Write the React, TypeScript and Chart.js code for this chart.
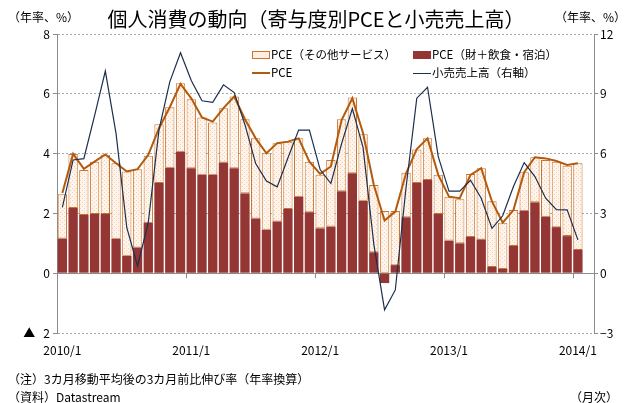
import React, { useEffect, useRef } from 'react';
import { Chart, registerables } from 'chart.js';
Chart.register(...registerables);

// ---- data ----
const categories: string[] = [];
for (let y = 2010; y <= 2014; y++) {
  for (let m = 1; m <= 12; m++) {
    if (y === 2014 && m > 2) break;
    categories.push(`${y}/${m}`);
  }
}
const tickLabels = ['2010/1', '2011/1', '2012/1', '2013/1', '2014/1'];

// PCE (財＋飲食・宿泊) contribution
const goodsFood = [
  1.16, 2.18, 1.95, 1.98, 1.98, 1.15, 0.58, 0.86, 1.69, 3.02, 3.53, 4.06,
  3.51, 3.29, 3.29, 3.70, 3.51, 2.67, 1.83, 1.45, 1.73, 2.15, 2.56, 2.04,
  1.50, 1.56, 2.74, 3.34, 2.42, 0.70, -0.33, 0.27, 1.87, 3.02, 3.12, 1.98,
  1.09, 1.00, 1.21, 1.13, 0.21, 0.14, 0.91, 2.09, 2.37, 1.89, 1.54, 1.24,
  0.78, null,
];
// PCE (その他サービス) contribution
const otherServices = [
  1.48, 1.81, 1.50, 1.75, 1.98, 2.53, 2.82, 2.62, 2.24, 1.96, 2.02, 2.29,
  2.31, 1.92, 1.75, 1.82, 2.40, 2.48, 2.68, 2.56, 2.62, 2.25, 1.95, 1.69,
  1.79, 2.23, 2.41, 2.54, 2.23, 2.25, 2.08, 1.81, 1.49, 1.12, 1.39, 1.31,
  1.47, 1.47, 2.11, 2.38, 2.20, 1.55, 1.20, 1.29, 1.51, 1.90, 2.19, 2.35,
  2.90, null,
];
// PCE total
const pce = [
  2.68, 3.99, 3.49, 3.73, 3.97, 3.68, 3.40, 3.48, 3.96, 4.85, 5.55, 6.33,
  5.85, 5.21, 5.07, 5.52, 5.91, 5.15, 4.51, 4.01, 4.35, 4.40, 4.51, 3.73,
  3.32, 3.57, 5.12, 5.85, 4.68, 2.95, 1.76, 2.06, 3.34, 4.15, 4.51, 3.29,
  2.56, 2.51, 3.29, 3.51, 2.40, 1.69, 2.11, 3.38, 3.88, 3.84, 3.75, 3.62,
  3.68, null,
];
// 小売売上高 (right axis)
const retail = [
  3.3, 5.68, 5.75, 7.9, 10.14, 7.0, 2.28, 0.37, 2.55, 7.2, 9.6, 11.06,
  9.67, 8.65, 8.57, 9.45, 9.06, 7.45, 5.5, 4.62, 4.33, 5.78, 7.18, 7.18,
  5.2, 4.5, 6.5, 8.26, 6.3, 1.45, -1.84, -0.84, 4.3, 8.78, 9.33, 5.85,
  4.12, 4.12, 4.66, 3.76, 2.25, 2.88, 4.35, 5.55, 4.85, 3.76, 3.19, 3.18,
  1.67, null,
];

const leftMin = -2, leftMax = 8, leftStep = 2;
const rightMin = -3, rightMax = 12, rightStep = 3;

const FONT = "'Noto Sans CJK JP', 'Noto Sans', sans-serif";
const DARK = '#943634';
const LIGHT_BORDER = '#c8752f';
const PCE_LINE = '#b35a0c';
const RETAIL_LINE = '#1c2f4e';
const AXIS = '#8c8c8c';

function makePattern(): CanvasPattern | string {
  const c = document.createElement('canvas');
  c.width = 4; c.height = 4;
  const g = c.getContext('2d');
  if (!g) return '#fdeee2';
  g.fillStyle = '#fff4ec';
  g.fillRect(0, 0, 4, 4);
  g.fillStyle = '#f5cfb0';
  g.fillRect(0, 0, 1, 1);
  g.fillRect(2, 2, 1, 1);
  const p = g.createPattern(c, 'repeat');
  return p || '#fdeee2';
}

const zeroLinePlugin = {
  id: 'zeroLineYearTicks',
  beforeDatasetsDraw(chart: any) {
    const { ctx, chartArea, scales } = chart;
    const y0 = scales.y.getPixelForValue(0);
    ctx.save();
    ctx.strokeStyle = AXIS;
    ctx.lineWidth = 1;
    ctx.beginPath();
    ctx.moveTo(chartArea.left, Math.round(y0) + 0.5);
    ctx.lineTo(chartArea.right, Math.round(y0) + 0.5);
    const xs = scales.x;
    const half = (xs.getPixelForValue(1) - xs.getPixelForValue(0)) / 2;
    categories.forEach((c, i) => {
      if (tickLabels.includes(c)) {
        const px = Math.round(xs.getPixelForValue(i) - half) + 0.5;
        ctx.moveTo(px, y0);
        ctx.lineTo(px, y0 + 5);
      }
    });
    ctx.stroke();
    ctx.restore();
  },
};

type TProps = { x: number; y: number; text: string; size: number; align?: 'left' | 'center' | 'right' };
function T({ x, y, text, size, align = 'left' }: TProps) {
  const style: React.CSSProperties = {
    position: 'absolute',
    top: y,
    fontSize: size,
    fontFamily: FONT,
    lineHeight: 1,
    whiteSpace: 'pre',
    color: '#000',
    transform: align === 'center' ? 'translate(-50%, -50%)' : 'translateY(-50%)',
  };
  if (align === 'right') style.right = 630 - x;
  else style.left = x;
  return <div style={style}>{text}</div>;
}

export default function App() {
  const ref = useRef<HTMLCanvasElement>(null);
  useEffect(() => {
    if (!ref.current) return;
    const pattern = makePattern();
    const chart = new Chart(ref.current, {
      type: 'bar',
      data: {
        labels: categories,
        datasets: [
          {
            type: 'line',
            label: '小売売上高（右軸）',
            data: retail,
            yAxisID: 'y1',
            borderColor: RETAIL_LINE,
            borderWidth: 1.2,
            pointRadius: 0,
            tension: 0,
            order: 0,
          } as any,
          {
            type: 'line',
            label: 'PCE',
            data: pce,
            yAxisID: 'y',
            stack: 'pceLine',
            borderColor: PCE_LINE,
            borderWidth: 2,
            pointRadius: 0,
            tension: 0,
            order: 1,
          } as any,
          {
            type: 'bar',
            label: 'PCE（財＋飲食・宿泊）',
            data: goodsFood,
            yAxisID: 'y',
            stack: 'pce',
            backgroundColor: DARK,
            borderWidth: 0,
            barPercentage: 0.87,
            categoryPercentage: 1,
            order: 2,
          } as any,
          {
            type: 'bar',
            label: 'PCE（その他サービス）',
            data: otherServices,
            yAxisID: 'y',
            stack: 'pce',
            backgroundColor: pattern,
            borderColor: LIGHT_BORDER,
            borderWidth: 1,
            borderSkipped: false,
            barPercentage: 0.87,
            categoryPercentage: 1,
            order: 3,
          } as any,
        ],
      },
      options: {
        responsive: false,
        animation: false,
        layout: { padding: { top: 34, bottom: 40, left: 0, right: 0 } },
        plugins: { legend: { display: false }, tooltip: { enabled: false }, title: { display: false } },
        scales: {
          x: {
            type: 'category',
            offset: true,
            stacked: true,
            grid: { display: false, drawTicks: false },
            border: { display: false },
            ticks: {
              autoSkip: false,
              maxRotation: 0,
              minRotation: 0,
              padding: 10,
              color: '#000',
              font: { family: FONT, size: 12 },
              callback: function (this: any, value: any) {
                const l = this.getLabelForValue(value);
                return tickLabels.includes(l) ? l : '';
              },
            },
            afterFit: (s: any) => { s.height = 30; },
          },
          y: {
            position: 'left',
            stacked: true,
            min: leftMin,
            max: leftMax,
            grid: {
              color: (c: any) => (c.tick && c.tick.value === 0 ? 'rgba(0,0,0,0)' : '#a8a8a8'),
              lineWidth: 1,
              drawTicks: true,
              tickLength: 4,
              tickColor: AXIS,
              tickBorderDash: [],
            },
            border: { display: true, color: AXIS, width: 1, dash: [2, 2] },
            ticks: {
              stepSize: leftStep,
              padding: 3,
              color: '#000',
              font: { family: FONT, size: 12 },
              callback: (v: any) => (Number(v) < 0 ? '▲   ' + String(-Number(v)) : String(v)),
            },
            afterFit: (s: any) => { s.width = 57; },
          },
          y1: {
            position: 'right',
            min: rightMin,
            max: rightMax,
            grid: { drawOnChartArea: false, drawTicks: true, tickLength: 4, tickColor: AXIS },
            border: { display: true, color: AXIS, width: 1 },
            ticks: {
              stepSize: rightStep,
              padding: 2,
              color: '#000',
              font: { family: FONT, size: 12 },
              callback: (v: any) => (Number(v) < 0 ? '−' + String(-Number(v)) : String(v)),
            },
            afterFit: (s: any) => { s.width = 36; },
          },
        },
      } as any,
      plugins: [zeroLinePlugin],
    });
    return () => chart.destroy();
  }, []);

  const sw: React.CSSProperties = { position: 'absolute' };
  return (
    <div style={{ position: 'absolute', left: 0, top: 0, width: 630, height: 403, background: '#fff', overflow: 'hidden' }}>
      <canvas ref={ref} width={630} height={403} style={{ position: 'absolute', left: 0, top: 0, width: 630, height: 403 }} />
      <T x={8} y={17} text="（年率、%）" size={12} />
      <T x={626} y={17} text="（年率、%）" size={12} align="right" />
      <T x={316} y={19} text="個人消費の動向（寄与度別PCEと小売売上高）" size={20} align="center" />
      {/* legend */}
      <div style={{ ...sw, left: 252, top: 51, width: 16, height: 6, background: '#fdeee2', border: `1px solid ${LIGHT_BORDER}` }} />
      <T x={271} y={55} text="PCE（その他サービス）" size={11.5} />
      <div style={{ ...sw, left: 413, top: 51, width: 18, height: 8, background: DARK }} />
      <T x={432} y={55} text="PCE（財＋飲食・宿泊）" size={11.5} />
      <div style={{ ...sw, left: 252, top: 72, width: 18, height: 2, background: PCE_LINE }} />
      <T x={271} y={73} text="PCE" size={11.5} />
      <div style={{ ...sw, left: 413, top: 73, width: 18, height: 1, background: RETAIL_LINE }} />
      <T x={432} y={73} text="小売売上高（右軸）" size={11.5} />
      {/* footnotes */}
      <T x={8} y={379} text="（注）3カ月移動平均後の3カ月前比伸び率（年率換算）" size={12} />
      <T x={8} y={397} text="（資料）Datastream" size={12} />
      <T x={618} y={397} text="（月次）" size={12} align="right" />
    </div>
  );
}
